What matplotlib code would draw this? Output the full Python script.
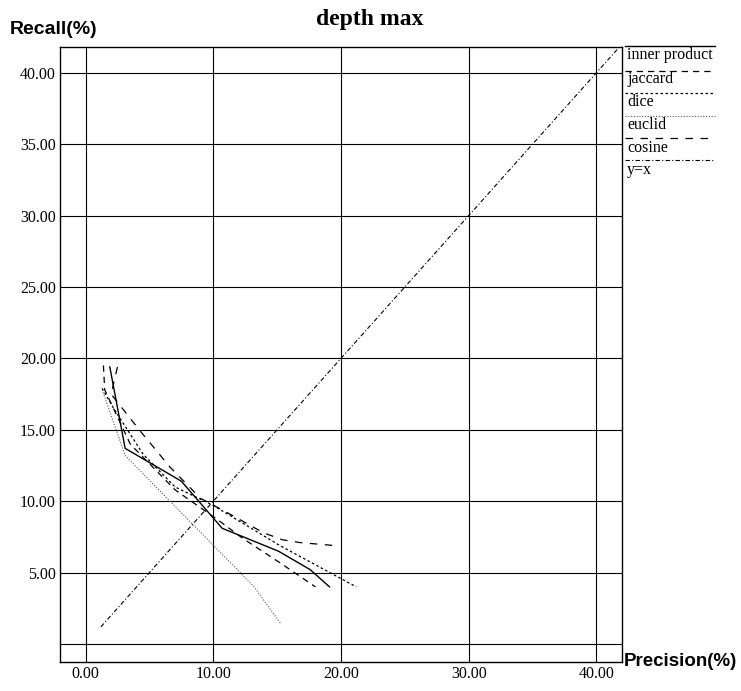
import matplotlib
matplotlib.use("Agg")
import matplotlib.pyplot as plt
from matplotlib.lines import Line2D

# ---- data ----
inner_x = [1.9, 3.1, 7.5, 10.7, 15.1, 17.6, 19.1]
inner_y = [19.4, 13.7, 11.4, 8.1, 6.5, 5.2, 4.0]

jaccard_x = [1.4, 1.5, 3.5, 7.0, 10.5, 12.3, 15.2, 18.0]
jaccard_y = [19.5, 17.8, 14.0, 10.8, 8.6, 7.4, 5.7, 4.0]

dice_x = [1.3, 2.2, 4.5, 7.0, 10.0, 15.2, 21.2]
dice_y = [17.9, 16.5, 13.3, 11.0, 9.7, 6.9, 4.0]

euclid_x = [1.3, 3.1, 13.2, 15.3]
euclid_y = [17.8, 13.2, 4.0, 1.4]

cosine_x = [2.5, 2.0, 4.2, 6.6, 9.0, 11.5, 13.9, 15.4, 16.8, 19.4]
cosine_y = [19.4, 17.5, 15.0, 12.4, 10.2, 9.0, 7.8, 7.3, 7.1, 6.9]

yx_x = [1.2, 41.8]
yx_y = [1.2, 41.8]

xticks = [0, 10, 20, 30, 40]
yticks = [0, 5, 10, 15, 20, 25, 30, 35, 40]
ytick_labels = ["", "5.00", "10.00", "15.00", "20.00", "25.00", "30.00", "35.00", "40.00"]
xtick_labels = ["0.00", "10.00", "20.00", "30.00", "40.00"]

names = ["inner product", "jaccard", "dice", "euclid", "cosine", "y=x"]

W, H = 741, 691
fig = plt.figure(figsize=(W / 100, H / 100), dpi=100)
ax = fig.add_axes([60 / W, 1 - 662 / H, (622 - 60) / W, (662 - 47) / H])

styles = [
    dict(color="black", lw=1.0, ls="-"),
    dict(color="black", lw=0.9, ls=(0, (5, 4))),
    dict(color="black", lw=0.9, ls=(0, (2, 2))),
    dict(color="#555555", lw=0.8, ls=(0, (1, 1.5))),
    dict(color="black", lw=0.9, ls=(0, (6, 6))),
    dict(color="black", lw=0.8, ls=(0, (4, 2, 1, 2))),
]
series = [(inner_x, inner_y), (jaccard_x, jaccard_y), (dice_x, dice_y),
          (euclid_x, euclid_y), (cosine_x, cosine_y), (yx_x, yx_y)]
for (xs, ys), st in zip(series, styles):
    ax.plot(xs, ys, **st)

ax.set_xlim(-2.0, 42.0)
ax.set_ylim(-1.26, 41.8)
ax.set_xticks(xticks)
ax.set_yticks(yticks)
ax.set_xticklabels(xtick_labels, fontfamily="Liberation Serif", fontsize=11.5)
ax.set_yticklabels(ytick_labels, fontfamily="Liberation Serif", fontsize=11.5)
ax.tick_params(length=0, pad=3)
ax.grid(True, color="black", lw=0.8)
for s in ax.spines.values():
    s.set_linewidth(1.0)

fig.text(370 / W, 1 - 20 / H, "depth max", ha="center", va="center",
         fontfamily="Liberation Serif", fontweight="bold", fontsize=17)
fig.text(10 / W, 1 - 30 / H, "Recall(%)", ha="left", va="center",
         fontfamily="Liberation Sans", fontweight="bold", fontsize=14)
fig.text(624 / W, 1 - 662 / H, "Precision(%)", ha="left", va="center",
         fontfamily="Liberation Sans", fontweight="bold", fontsize=13.5)

# legend (outside, right)
line_y = [46, 71, 93, 116, 138, 160]
text_y = [55, 79, 102, 125, 148, 170]
for name, st, ly, ty in zip(names, styles, line_y, text_y):
    fig.add_artist(Line2D([625 / W, 715 / W], [1 - ly / H, 1 - ly / H],
                          transform=fig.transFigure, **st))
    fig.text(627 / W, 1 - ty / H, name, ha="left", va="center",
             fontfamily="Liberation Serif", fontsize=11.5)

fig.savefig("out.png", dpi=100)
